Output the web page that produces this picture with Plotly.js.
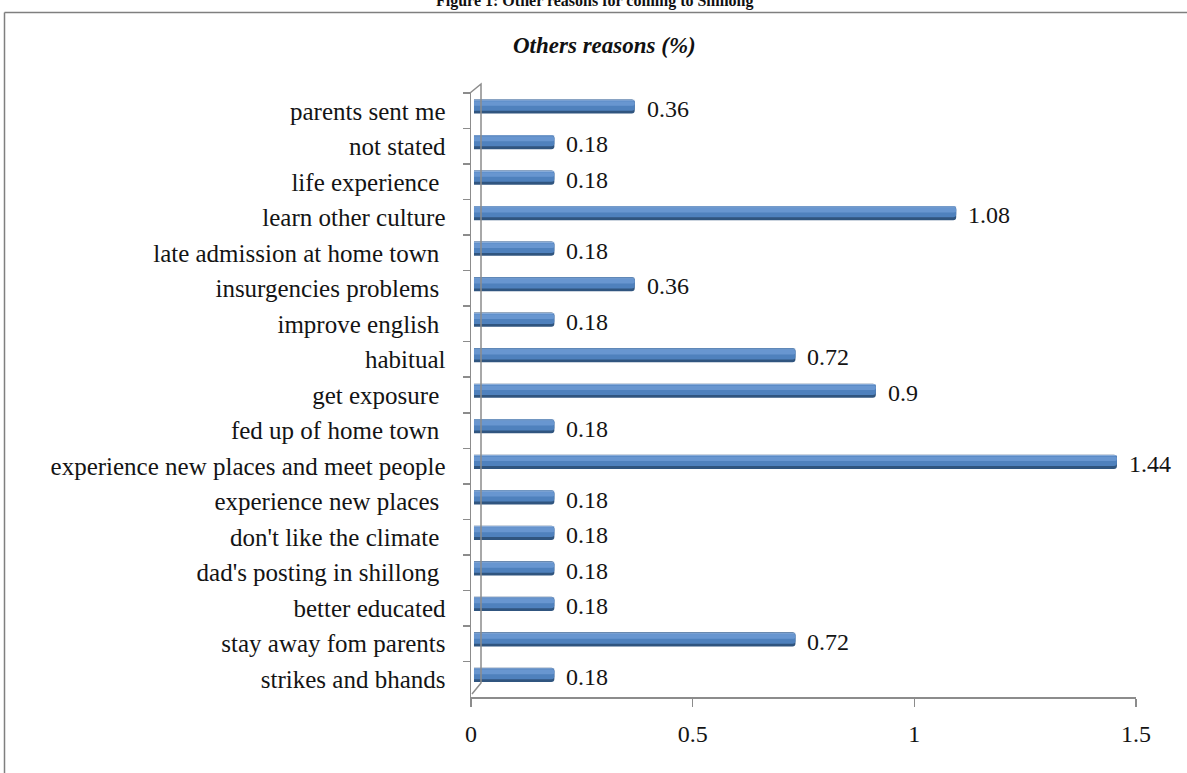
<!DOCTYPE html>
<html>
<head>
<meta charset="utf-8">
<script src="https://cdn.plot.ly/plotly-3.0.1.min.js"></script>
<style>
  html, body { margin: 0; padding: 0; background: #ffffff; }
  #chart { width: 1187px; height: 773px; }
</style>
</head>
<body>
<div id="chart"></div>
<script>
// Reasons, listed from the top row to the bottom row
const reasons = [
  "parents sent me",
  "not stated",
  "life experience ",
  "learn other culture",
  "late admission at home town ",
  "insurgencies problems ",
  "improve english ",
  "habitual",
  "get exposure ",
  "fed up of home town ",
  "experience new places and meet people",
  "experience new places ",
  "don't like the climate ",
  "dad's posting in shillong ",
  "better educated",
  "stay away fom parents",
  "strikes and bhands"
];

// Share of respondents (%)
const percents = [0.36, 0.18, 0.18, 1.08, 0.18, 0.36, 0.18, 0.72, 0.9, 0.18, 1.44, 0.18, 0.18, 0.18, 0.18, 0.72, 0.18];

const xTickValues = [0, 0.5, 1, 1.5];
const xTickLabels = ["0", "0.5", "1", "1.5"];

const figureCaption = "Figure 1: Other reasons for coming to Shillong";
const chartTitle = "Others reasons (%)";

// ---- page geometry (pixels) ----
const W = 1187, H = 773;
const M = { l: 471, r: 51, t: 93, b: 76 };
const plotW = W - M.l - M.r;
const plotH = H - M.t - M.b;
const px = x => (x - M.l) / plotW;          // page x -> paper x
const py = y => (H - M.b - y) / plotH;      // page y -> paper y

const serif = "'Liberation Serif', 'Times New Roman', serif";
const axisGrey = "#8c8c8c";
const ink = "#141414";

// Cylinder-like bars built from stacked layers
function barLayer(color, width, offset, opacity) {
  return {
    type: "bar",
    orientation: "h",
    x: percents,
    y: reasons,
    xaxis: "x2",
    yaxis: "y",
    width: width,
    offset: offset,
    marker: { color: color, opacity: opacity, line: { width: 0 }, cornerradius: 3 },
    hoverinfo: "skip",
    showlegend: false
  };
}

// empty trace that keeps the main x/y subplot (and its axis lines) alive
const axisHolder = {
  type: "scatter", mode: "markers",
  x: [], y: [], xaxis: "x", yaxis: "y",
  hoverinfo: "skip", showlegend: false
};

const data = [
  axisHolder,
  barLayer("#30557f", 0.40, -0.32, 1),
  barLayer("#4f81bd", 0.31, -0.31, 1),
  barLayer("#74a0d8", 0.13, -0.27, 0.7),
  barLayer("#9fbde6", 0.03, -0.31, 0.7)
];

// value labels next to each bar end
const valueLabels = reasons.map((r, i) => ({
  x: percents[i],
  y: r,
  xref: "x2",
  yref: "y",
  text: String(percents[i]),
  showarrow: false,
  xanchor: "left",
  yanchor: "middle",
  xshift: 10,
  yshift: 2,
  font: { family: serif, size: 24, color: ink }
}));

// 3-D wall edge and frame around the chart
function pathFrom(points) {
  return points.map((p, i) => (i ? "L" : "M") + px(p[0]).toFixed(5) + "," + py(p[1]).toFixed(5)).join(" ");
}

const shapes = [
  {
    type: "path", xref: "paper", yref: "paper",
    path: pathFrom([[470, 93], [481, 84], [481, 683], [472, 694]]),
    line: { color: axisGrey, width: 1.5 }
  },
  {
    type: "line", xref: "paper", yref: "paper",
    x0: px(4.5), x1: px(1200), y0: py(12.5), y1: py(12.5),
    line: { color: "#7f7f7f", width: 1.5 }
  },
  {
    type: "line", xref: "paper", yref: "paper",
    x0: px(4.5), x1: px(4.5), y0: py(12.5), y1: py(790),
    line: { color: "#7f7f7f", width: 1.5 }
  }
];

const annotations = valueLabels.concat([
  {
    xref: "paper", yref: "paper",
    x: px(594), y: py(1),
    text: "<b>" + figureCaption + "</b>",
    showarrow: false, xanchor: "center", yanchor: "middle",
    font: { family: serif, size: 16, color: "#111" }
  },
  {
    xref: "paper", yref: "paper",
    x: px(604), y: py(46),
    text: "<b><i>" + chartTitle + "</i></b>",
    showarrow: false, xanchor: "center", yanchor: "middle",
    font: { family: serif, size: 23, color: "#111" }
  }
]);

const layout = {
  width: W,
  height: H,
  margin: M,
  paper_bgcolor: "#ffffff",
  plot_bgcolor: "#ffffff",
  barmode: "overlay",
  showlegend: false,
  xaxis: {
    range: [0, 1.5],
    tickvals: xTickValues,
    ticktext: xTickLabels,
    showgrid: false,
    zeroline: false,
    showline: true,
    linecolor: axisGrey,
    linewidth: 1.5,
    ticks: "outside",
    ticklen: 8,
    tickwidth: 1.5,
    tickcolor: axisGrey,
    ticklabelstandoff: 7,
    tickfont: { family: serif, size: 24, color: ink },
    fixedrange: true
  },
  xaxis2: {
    overlaying: "x",
    range: [-0.0067, 1.4827],
    visible: false,
    fixedrange: true
  },
  yaxis: {
    type: "category",
    categoryorder: "array",
    categoryarray: reasons,
    autorange: "reversed",
    showgrid: false,
    zeroline: false,
    showline: true,
    linecolor: axisGrey,
    linewidth: 1.5,
    ticks: "outside",
    tickson: "boundaries",
    ticklen: 7,
    tickwidth: 1.5,
    tickcolor: axisGrey,
    ticklabelstandoff: 19,
    tickfont: { family: serif, size: 25, color: ink },
    fixedrange: true
  },
  shapes: shapes,
  annotations: annotations
};

Plotly.newPlot("chart", data, layout, { displayModeBar: false, staticPlot: true });
</script>
</body>
</html>
